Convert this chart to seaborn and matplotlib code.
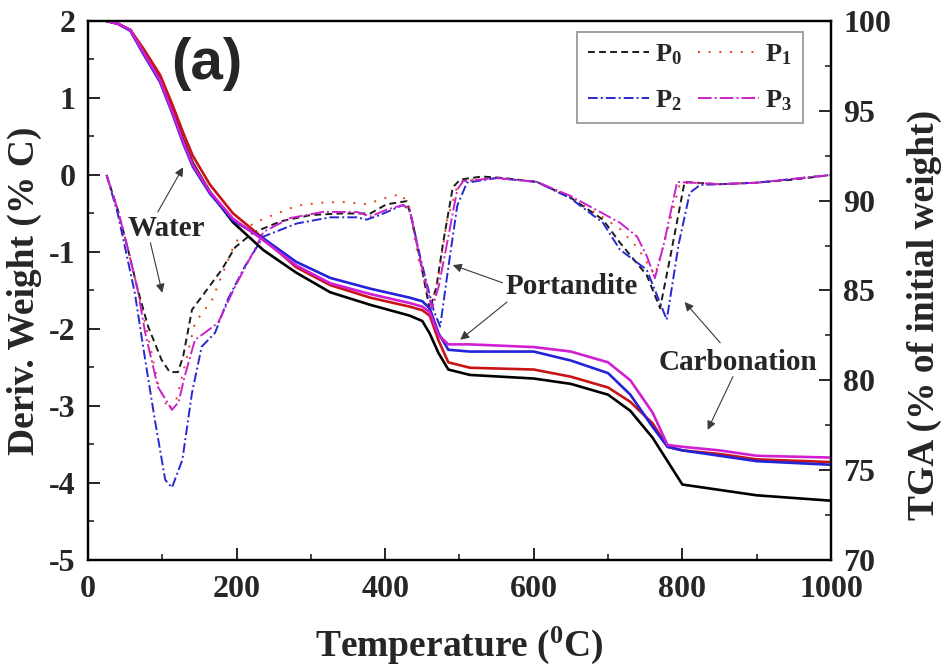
import numpy as np
import pandas as pd
import matplotlib
matplotlib.use("Agg")
import matplotlib.pyplot as plt
from matplotlib.ticker import MultipleLocator
import seaborn as sns

# ---------------- data ----------------
series = ["P$_0$", "P$_1$", "P$_2$", "P$_3$"]

# TGA (% of initial weight), shared temperature grid
tga_temp = [25, 40, 57, 74, 97, 114, 128, 141, 164, 195, 236, 280, 326, 380,
            433, 450, 460, 472, 485, 514, 600, 650, 700, 730, 760, 780, 800,
            850, 900, 1000]
tga_p0 = [100, 99.85, 99.5, 98.4, 96.8, 95.0, 93.4, 92.1, 90.5, 88.8, 87.25,
          86.0, 84.9, 84.2, 83.6, 83.3, 82.6, 81.5, 80.6, 80.3, 80.1, 79.8,
          79.2, 78.3, 76.8, 75.5, 74.2, 73.9, 73.6, 73.3]
tga_p1 = [100, 99.85, 99.5, 98.5, 97.0, 95.3, 93.8, 92.5, 90.9, 89.3, 87.9,
          86.3, 85.3, 84.6, 84.1, 83.9, 83.6, 82.2, 81.0, 80.7, 80.6, 80.2,
          79.6, 78.8, 77.6, 76.3, 76.1, 75.9, 75.6, 75.45]
tga_p2 = [100, 99.85, 99.45, 98.2, 96.6, 94.8, 93.2, 91.9, 90.4, 88.9, 87.9,
          86.6, 85.7, 85.1, 84.6, 84.4, 84.0, 82.6, 81.7, 81.6, 81.6, 81.1,
          80.4, 79.2, 77.4, 76.3, 76.1, 75.8, 75.5, 75.3]
tga_p3 = [100, 99.85, 99.5, 98.3, 96.7, 94.9, 93.3, 92.0, 90.5, 89.0, 87.8,
          86.4, 85.4, 84.8, 84.3, 84.1, 83.8, 82.5, 82.0, 82.0, 81.85, 81.6,
          81.0, 80.0, 78.2, 76.4, 76.3, 76.1, 75.8, 75.7]

# Derivative weight (% C)
dtg_p0_temp = [25, 40, 54, 67, 81, 99, 110, 121, 128, 140, 157, 180, 198, 222,
               260, 300, 340, 380, 402, 429, 437, 448, 460, 469, 478, 491, 501,
               530, 560, 604, 649, 693, 716, 752, 770, 785, 803, 850, 900, 950,
               1000]
dtg_p0 = [0.0, -0.45, -0.97, -1.49, -1.97, -2.4, -2.56, -2.56, -2.36, -1.75,
          -1.53, -1.23, -0.94, -0.75, -0.6, -0.52, -0.5, -0.5, -0.38, -0.34,
          -0.62, -1.15, -1.75, -1.45, -0.88, -0.16, -0.06, -0.02, -0.04, -0.09,
          -0.29, -0.58, -0.88, -1.3, -1.73, -1.0, -0.09, -0.12, -0.1, -0.06,
          0.0]

dtg_p1_temp = [25, 40, 54, 67, 81, 94, 108, 118, 130, 144, 167, 198, 222, 249,
               281, 312, 343, 375, 406, 422, 432, 445, 463, 472, 483, 497, 505,
               550, 604, 649, 693, 716, 740, 763, 775, 797, 850, 900, 1000]
dtg_p1 = [0.0, -0.45, -0.97, -1.49, -2.1, -2.7, -3.05, -2.95, -2.49, -1.92,
          -1.62, -0.88, -0.63, -0.52, -0.40, -0.36, -0.35, -0.38, -0.28, -0.25,
          -0.4, -1.1, -1.73, -1.3, -0.6, -0.15, -0.07, -0.04, -0.09, -0.29,
          -0.55, -0.7, -0.95, -1.3, -0.9, -0.1, -0.12, -0.1, 0.0]

dtg_p2_temp = [25, 40, 63, 77, 90, 104, 113, 127, 140, 153, 171, 188, 211, 236,
               281, 326, 362, 375, 393, 424, 433, 448, 465, 474, 485, 497, 510,
               550, 604, 649, 693, 716, 752, 779, 795, 810, 824, 850, 900, 1000]
dtg_p2 = [0.0, -0.5, -1.53, -2.4, -3.18, -3.96, -4.06, -3.7, -2.83, -2.23,
          -2.05, -1.62, -1.19, -0.80, -0.63, -0.55, -0.55, -0.58, -0.52, -0.39,
          -0.45, -1.1, -1.75, -1.97, -1.2, -0.4, -0.1, -0.04, -0.09, -0.3,
          -0.62, -0.97, -1.23, -1.88, -0.9, -0.23, -0.13, -0.12, -0.1, 0.0]

dtg_p3_temp = [25, 40, 54, 67, 77, 94, 113, 122, 130, 144, 157, 175, 198, 229,
               236, 272, 316, 362, 380, 402, 424, 433, 447, 463, 472, 485, 497,
               505, 550, 604, 649, 693, 716, 739, 752, 763, 775, 793, 850, 900,
               1000]
dtg_p3 = [0.0, -0.45, -0.97, -1.5, -2.05, -2.75, -3.05, -2.95, -2.62, -2.14,
          -2.05, -1.92, -1.45, -0.88, -0.74, -0.56, -0.48, -0.48, -0.54, -0.45,
          -0.39, -0.45, -1.1, -1.73, -1.45, -0.8, -0.19, -0.08, -0.04, -0.09,
          -0.27, -0.5, -0.62, -0.8, -1.05, -1.34, -0.9, -0.09, -0.12, -0.1,
          0.0]

# ---------------- style ----------------
sns.set_style("ticks")
plt.rcParams["font.family"] = ["Liberation Serif", "DejaVu Serif"]
plt.rcParams["font.weight"] = "bold"
plt.rcParams["axes.unicode_minus"] = False
plt.rcParams["mathtext.fontset"] = "custom"
plt.rcParams["mathtext.rm"] = "Liberation Serif:bold"
plt.rcParams["mathtext.it"] = "Liberation Serif:bold"
plt.rcParams["mathtext.bf"] = "Liberation Serif:bold"

tga_colors = ["#000000", "#c81414", "#2323d8", "#d21ed2"]
dtg_colors = ["#1a1a1a", "#e0401c", "#2828d0", "#cc22cc"]
dtg_styles = [(0, (3.5, 2.2)), (0, (1.0, 4.5)), (0, (5, 1.6, 1, 1.6)),
              (0, (7, 1.6, 1, 1.6))]

fig = plt.figure(figsize=(9.43, 6.70), dpi=100)
ax = fig.add_axes([0.0933, 0.1642, 0.7879, 0.8045])
ax2 = ax.twinx()

# DTG curves (left axis)
dtg_data = [(dtg_p0_temp, dtg_p0), (dtg_p1_temp, dtg_p1),
            (dtg_p2_temp, dtg_p2), (dtg_p3_temp, dtg_p3)]
handles = []
for (t, v), name, c, ls in zip(dtg_data, series, dtg_colors, dtg_styles):
    df = pd.DataFrame({"Temperature": t, "Deriv": v})
    sns.lineplot(data=df, x="Temperature", y="Deriv", ax=ax, color=c,
                 linestyle=ls, linewidth=1.4, label=name, legend=False,
                 sort=False)
    handles.append(ax.lines[-1])

# TGA curves (right axis)
for vals, c in zip([tga_p0, tga_p1, tga_p2, tga_p3], tga_colors):
    df = pd.DataFrame({"Temperature": tga_temp, "TGA": vals})
    sns.lineplot(data=df, x="Temperature", y="TGA", ax=ax2, color=c,
                 linewidth=1.9, legend=False, sort=False)

# ---------------- axes ----------------
ax.set_xlim(0, 1000)
ax.set_ylim(-5, 2)
ax2.set_ylim(70, 100)

ax.xaxis.set_major_locator(MultipleLocator(200))
ax.xaxis.set_minor_locator(MultipleLocator(100))
ax.yaxis.set_major_locator(MultipleLocator(1))
ax.yaxis.set_minor_locator(MultipleLocator(0.5))
ax2.yaxis.set_major_locator(MultipleLocator(5))
ax2.yaxis.set_minor_locator(MultipleLocator(2.5))

ax.tick_params(axis="both", which="major", direction="in", length=8.5,
               width=1.4, labelsize=23, pad=9, right=False, top=False)
ax.tick_params(axis="both", which="minor", direction="in", length=4.5,
               width=1.2, right=False, top=False)
ax.tick_params(axis="x", which="major", pad=11)
ax2.tick_params(axis="y", which="major", direction="in", length=8.5,
                width=1.4, labelsize=23, pad=9)
ax2.tick_params(axis="y", which="minor", direction="in", length=4.5,
                width=1.2)
for a in (ax, ax2):
    for sp in a.spines.values():
        sp.set_linewidth(1.6)
        sp.set_color("black")

ax.set_xlabel(r"Temperature ($^{0}$C)", fontsize=27, fontweight="bold",
              labelpad=15)
ax.set_ylabel("Deriv. Weight (% C)", fontsize=27, fontweight="bold")
ax.yaxis.set_label_coords(-0.062, 0.5)
ax2.set_ylabel("TGA (% of initial weight)", fontsize=27, fontweight="bold",
               rotation=90)
ax2.yaxis.set_label_coords(1.102, 0.455)

# ---------------- legend ----------------
order = [0, 2, 1, 3]
leg = ax.legend([handles[i] for i in order], [series[i] for i in order],
                ncol=2, loc="upper right", bbox_to_anchor=(0.962, 0.98),
                fontsize=19, frameon=True, fancybox=False, handlelength=2.3,
                handletextpad=0.25, columnspacing=0.6, labelspacing=0.8,
                borderpad=0.4, borderaxespad=0)
leg.get_frame().set_edgecolor("#808080")
leg.get_frame().set_linewidth(1.3)
for txt in leg.get_texts():
    txt.set_fontweight("bold")

# ---------------- annotations ----------------
ax.text(160, 1.44, "(a)", fontsize=42, fontweight="bold",
        family=["Liberation Sans", "DejaVu Sans"], ha="center", va="center")

arrow = dict(arrowstyle="-|>", color="#3a3a3a", lw=0.8, mutation_scale=13,
             shrinkA=0, shrinkB=0)
note_kw = dict(fontsize=21, fontweight="bold", ha="center", va="center")

ax.text(106, -0.69, "Water", **note_kw)
ax.annotate("", xy=(128, 0.10), xytext=(94, -0.48), arrowprops=arrow)
ax.annotate("", xy=(100, -1.53), xytext=(84, -0.88), arrowprops=arrow)

ax.text(651, -1.45, "Portandite", **note_kw)
ax.annotate("", xy=(491, -1.17), xytext=(558, -1.40), arrowprops=arrow)
ax.annotate("", xy=(501, -2.14), xytext=(564, -1.65), arrowprops=arrow)

ax.text(875, -2.44, "Carbonation", **note_kw)
ax.annotate("", xy=(803, -1.65), xytext=(851, -2.18), arrowprops=arrow)
ax.annotate("", xy=(834, -3.31), xytext=(868, -2.62), arrowprops=arrow)

fig.savefig("out.png", dpi=100)
